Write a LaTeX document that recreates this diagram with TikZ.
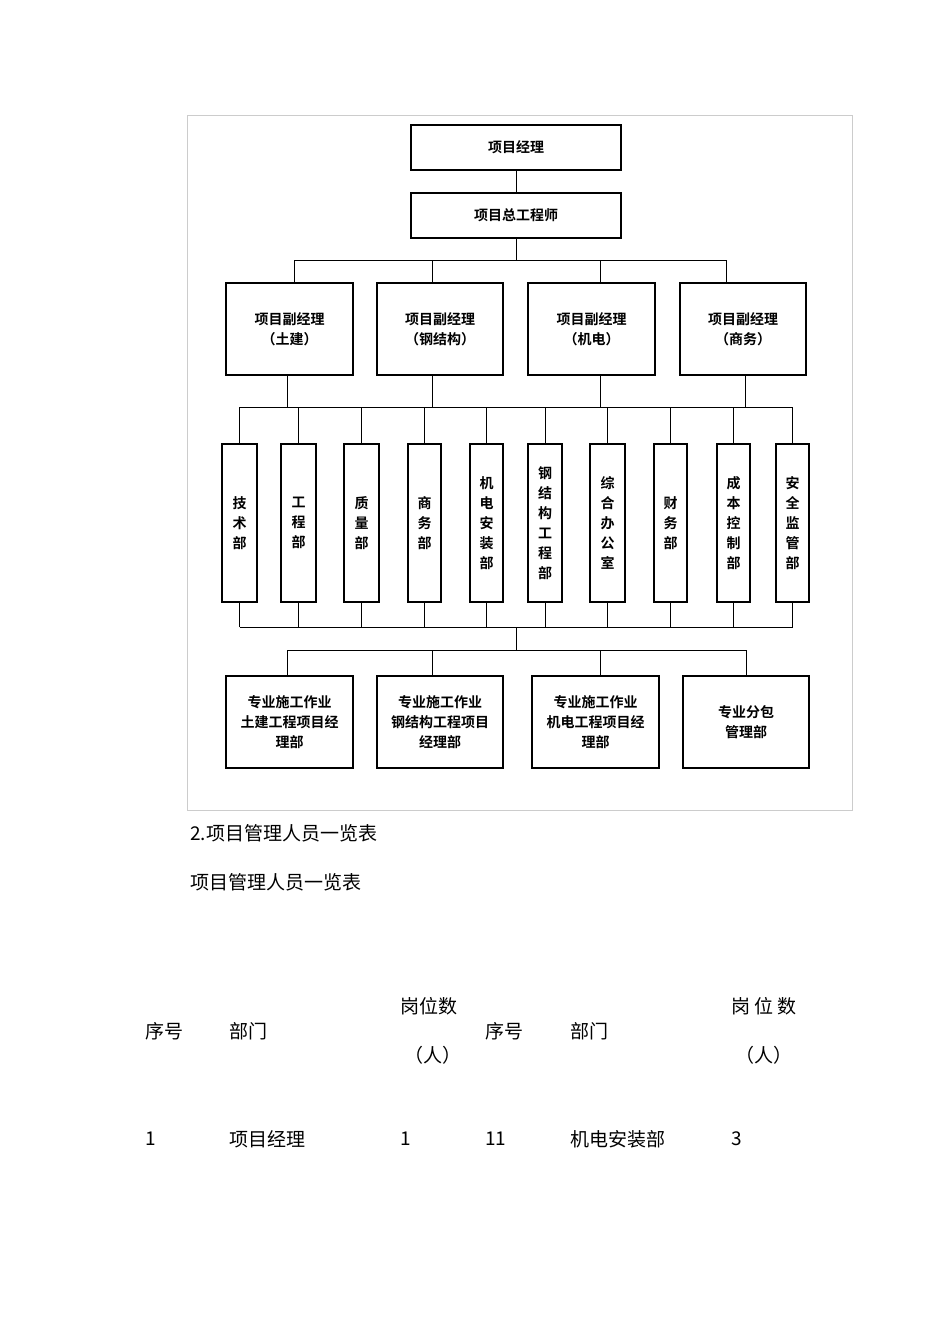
\documentclass[tikz,border=0pt]{standalone}
\usepackage{fontspec}
\newfontfamily\cjk{Noto Sans CJK SC}
\newfontfamily\cjkb{Noto Sans CJK SC Bold}
\begin{document}
\begin{tikzpicture}[x=1pt,y=-1pt,
 bx/.style={draw,line width=1.1pt,fill=white,font=\cjkb\fontsize{14}{20}\selectfont,align=center,inner sep=0pt},
 ln/.style={line width=0.9pt},
 tx/.style={font=\cjk\fontsize{19}{22}\selectfont,anchor=west,inner sep=0pt}]
\useasboundingbox (0,0) rectangle (950,1344);
\draw[gray!40,line width=0.6pt] (187,115) rectangle (852,810);
\newcommand\bxat[4]{\node[bx,minimum width=#3-#1,minimum height=#4-#2] at ({(#1+#3)/2},{(#2+#4)/2})}
\bxat{411}{125}{621}{170} (a) {项目经理};
\bxat{411}{193}{621}{238} (b) {项目总工程师};
\bxat{226}{283}{353}{375} (c1) {项目副经理\\（土建）};
\bxat{377}{283}{503}{375} (c2) {项目副经理\\（钢结构）};
\bxat{528}{283}{655}{375} (c3) {项目副经理\\（机电）};
\bxat{680}{283}{806}{375} (c4) {项目副经理\\（商务）};
\bxat{222}{444}{257}{602} (d1) {技\\术\\部};
\bxat{281}{444}{316}{602} (d2) {工\\程\\部};
\bxat{344}{444}{379}{602} (d3) {质\\量\\部};
\bxat{408}{444}{441}{602} (d4) {商\\务\\部};
\bxat{470}{444}{503}{602} (d5) {机\\电\\安\\装\\部};
\bxat{528}{444}{562}{602} (d6) {钢\\结\\构\\工\\程\\部};
\bxat{590}{444}{625}{602} (d7) {综\\合\\办\\公\\室};
\bxat{654}{444}{687}{602} (d8) {财\\务\\部};
\bxat{717}{444}{750}{602} (d9) {成\\本\\控\\制\\部};
\bxat{776}{444}{809}{602} (d10) {安\\全\\监\\管\\部};
\bxat{226}{676}{353}{768} (e1) {专业施工作业\\土建工程项目经\\理部};
\bxat{377}{676}{503}{768} (e2) {专业施工作业\\钢结构工程项目\\经理部};
\bxat{532}{676}{659}{768} (e3) {专业施工作业\\机电工程项目经\\理部};
\bxat{683}{676}{809}{768} (e4) {专业分包\\管理部};
\draw[ln] (a.south) -- (b.north);
\draw[ln] (b.south) -- (516,260);
\draw[ln] (294,260) -- (726,260);
\foreach \x in {294,432,600,726} \draw[ln] (\x,260) -- (\x,283);
\draw[ln] (d1.north |- 0,407) -- (d10.north |- 0,407);
\foreach \x in {287,432,600,745} \draw[ln] (\x,375) -- (\x,407);
\draw[ln] (d1.south |- 0,627) -- (d10.south |- 0,627);
\foreach \n in {d1,d2,d3,d4,d5,d6,d7,d8,d9,d10}{
 \draw[ln] (\n.north) -- (\n.north |- 0,407);
 \draw[ln] (\n.south) -- (\n.south |- 0,627);}
\draw[ln] (516,627) -- (516,650);
\draw[ln] (287,650) -- (746,650);
\foreach \x in {287,432,600,746} \draw[ln] (\x,650) -- (\x,676);
\node[tx] (t1) at (190,833) {2.项目管理人员一览表};
\node[tx] (t2) at (190,882) {项目管理人员一览表};
\node[tx] (h1) at (145,1031) {序号};
\node[tx] (h2) at (229,1031) {部门};
\node[tx] (h3) at (400,1006) {岗位数};
\node[tx] (h4) at (404,1055) {（人）};
\node[tx] (h5) at (485,1031) {序号};
\node[tx] (h6) at (570,1031) {部门};
\node[tx] (h7) at (731,1006) {岗 位 数};
\node[tx] (h8) at (735,1055) {（人）};
\node[tx] (r1) at (145,1139) {1};
\node[tx] (r2) at (229,1139) {项目经理};
\node[tx] (r3) at (400,1139) {1};
\node[tx] (r4) at (485,1139) {11};
\node[tx] (r5) at (570,1139) {机电安装部};
\node[tx] (r6) at (731,1139) {3};
\end{tikzpicture}
\end{document}
